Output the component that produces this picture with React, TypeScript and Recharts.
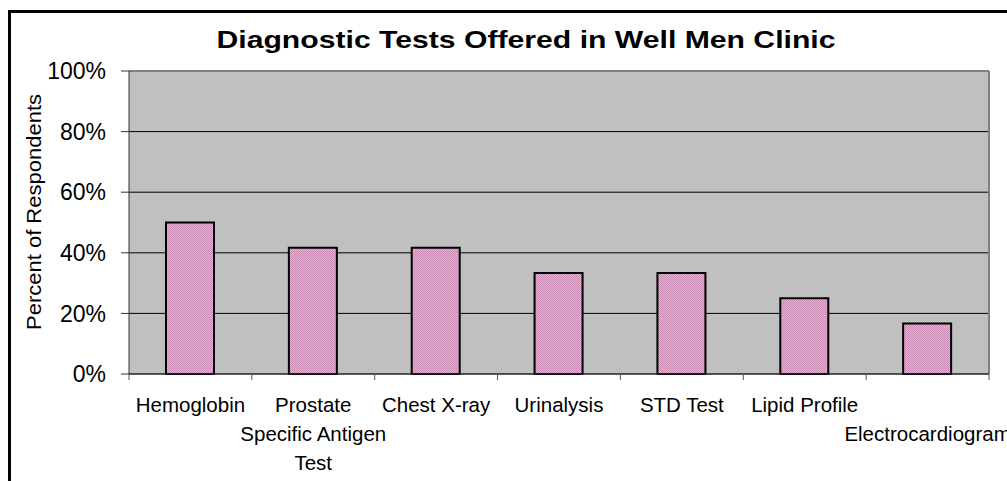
import React from 'react';
import { BarChart, Bar, XAxis, YAxis, CartesianGrid } from 'recharts';

const categories = [
  'Hemoglobin',
  'Prostate Specific Antigen Test',
  'Chest X-ray',
  'Urinalysis',
  'STD Test',
  'Lipid Profile',
  'Electrocardiogram',
];
const tickLines: string[][] = [
  ['Hemoglobin'],
  ['Prostate', 'Specific Antigen', 'Test'],
  ['Chest X-ray'],
  ['Urinalysis'],
  ['STD Test'],
  ['Lipid Profile'],
  ['', 'Electrocardiogram'],
];
const percentValues = [50, 41.7, 41.7, 33.3, 33.3, 25, 16.7];
const yTicks = [0, 20, 40, 60, 80, 100];
const titleText = 'Diagnostic Tests Offered in Well Men Clinic';
const yAxisTitle = 'Percent of Respondents';

const data = categories.map((name, i) => ({ name, idx: i, value: percentValues[i] }));

const FONT = '"Liberation Sans", Arial, sans-serif';

const CHART_W = 1007;
const CHART_H = 481;
const MARGIN = { top: 71, right: 18, left: 49, bottom: 7 };
const Y_AXIS_W = 80;
const PLOT_W = CHART_W - MARGIN.left - MARGIN.right - Y_AXIS_W;
const BAND = PLOT_W / categories.length;

const CategoryTick = (props: any) => {
  const { x, y, payload } = props;
  const idx = payload.index ?? categories.indexOf(payload.value);
  const lines = tickLines[idx] || [String(payload.value)];
  const left = x - BAND / 2;
  const right = x + BAND / 2;
  return (
    <g>
      <line x1={left} x2={left} y1={y} y2={y + 6} stroke="#555" strokeWidth={1} />
      {idx === categories.length - 1 ? (
        <line x1={right} x2={right} y1={y} y2={y + 6} stroke="#555" strokeWidth={1} />
      ) : null}
      {lines.map((ln, i) =>
        ln ? (
          <text
            key={i}
            x={x}
            y={y + 38 + i * 29}
            textAnchor="middle"
            fontSize={20.5}
            fontFamily={FONT}
            fill="#000"
          >
            {ln}
          </text>
        ) : null
      )}
    </g>
  );
};

export default function App() {
  return (
    <div
      style={{
        position: 'fixed',
        left: 0,
        top: 0,
        width: CHART_W,
        height: CHART_H,
        overflow: 'hidden',
        background: '#fff',
        fontFamily: FONT,
      }}
    >
      <div
        style={{
          position: 'absolute',
          left: 8,
          top: 10,
          width: 1200,
          height: 600,
          border: '3px solid #000',
          boxSizing: 'border-box',
        }}
      />
      <div style={{ position: 'absolute', left: 0, top: 0 }}>
        <BarChart
          width={CHART_W}
          height={CHART_H}
          data={data}
          margin={MARGIN}
          barCategoryGap="30%"
        >
          <defs>
            <pattern id="pinkCheck" width={2} height={2} patternUnits="userSpaceOnUse">
              <rect x={0} y={0} width={2} height={2} fill="#e4b4d6" />
              <rect x={0} y={0} width={1} height={1} fill="#c78ab3" />
              <rect x={1} y={1} width={1} height={1} fill="#c78ab3" />
            </pattern>
          </defs>
          <CartesianGrid
            vertical={false}
            stroke="#000"
            fill="#c0c0c0"
            fillOpacity={1}
          />
          <CartesianGrid
            stroke="#808080"
            strokeWidth={2}
            horizontalCoordinatesGenerator={(p: any) => [p.offset.top]}
            verticalCoordinatesGenerator={(p: any) => [p.offset.left + p.offset.width]}
          />
          <XAxis
            dataKey="name"
            type="category"
            interval={0}
            tick={<CategoryTick />}
            tickLine={false}
            tickSize={0}
            tickMargin={0}
            axisLine={{ stroke: '#333', strokeWidth: 1 }}
            height={100}
          />
          <YAxis
            type="number"
            domain={[0, 100]}
            ticks={yTicks}
            tickFormatter={(v: number) => `${v}%`}
            tickSize={8}
            tickMargin={15}
            width={Y_AXIS_W}
            axisLine={{ stroke: '#333' }}
            tickLine={{ stroke: '#333' }}
            tick={{ fill: '#000', fontSize: 23, fontFamily: FONT }}
            interval={0}
          />
          <Bar
            dataKey="value"
            fill="url(#pinkCheck)"
            stroke="#000"
            strokeWidth={2}
            barSize={48}
            isAnimationActive={false}
          />
        </BarChart>
      </div>
      <svg
        width={CHART_W}
        height={CHART_H}
        style={{ position: 'absolute', left: 0, top: 0, pointerEvents: 'none' }}
      >
        <text
          x={526}
          y={48}
          textAnchor="middle"
          fontSize={24}
          fontWeight="bold"
          fontFamily={FONT}
          fill="#000"
          textLength={619}
          lengthAdjust="spacingAndGlyphs"
        >
          {titleText}
        </text>
        <text
          x={33}
          y={212}
          transform="rotate(-90 33 212)"
          textAnchor="middle"
          dominantBaseline="central"
          fontSize={21}
          fontFamily={FONT}
          fill="#000"
          textLength={236}
          lengthAdjust="spacingAndGlyphs"
        >
          {yAxisTitle}
        </text>
      </svg>
    </div>
  );
}
